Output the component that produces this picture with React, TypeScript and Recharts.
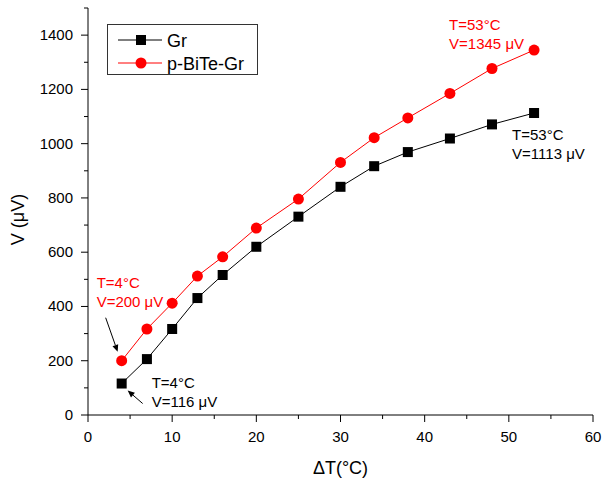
import React from 'react';
import { Label, Legend, Line, LineChart, XAxis, YAxis } from 'recharts';

const FONT = '"Liberation Sans", Arial, sans-serif';

// temperature difference (°C)
const deltaT = [4, 7, 10, 13, 16, 20, 25, 30, 34, 38, 43, 48, 53];
// voltage (µV)
const grV = [116, 206, 317, 431, 516, 620, 731, 841, 917, 969, 1019, 1071, 1113];
const biteV = [200, 317, 412, 512, 583, 689, 796, 931, 1022, 1095, 1185, 1277, 1345];

const xTicks = [0, 5, 10, 15, 20, 25, 30, 35, 40, 45, 50, 55, 60];
const yTicks = [0, 100, 200, 300, 400, 500, 600, 700, 800, 900, 1000, 1100, 1200, 1300, 1400, 1500];

const data = deltaT.map((t, i) => ({ t, gr: grV[i], bite: biteV[i] }));

const YTick = (props: any) => {
  const { x, y, payload } = props;
  const major = payload.value % 200 === 0 && payload.value <= 1400;
  return (
    <g>
      <line x1={x} x2={x - (major ? 7 : 4)} y1={y} y2={y} stroke="#000" />
      {major && (
        <text x={x - 15} y={y} dy={5} textAnchor="end" fontSize={15} fontFamily={FONT} fill="#000">
          {payload.value}
        </text>
      )}
    </g>
  );
};

const XTick = (props: any) => {
  const { x, y, payload } = props;
  const major = payload.value % 10 === 0;
  return (
    <g>
      <line x1={x} x2={x} y1={y} y2={y + (major ? 7 : 4)} stroke="#000" />
      {major && (
        <text x={x} y={y + 27} textAnchor="middle" fontSize={15} fontFamily={FONT} fill="#000">
          {payload.value}
        </text>
      )}
    </g>
  );
};

const Arrow = ({ x1, y1, x2, y2 }: { x1: number; y1: number; x2: number; y2: number }) => {
  const a = Math.atan2(y2 - y1, x2 - x1);
  const len = 7;
  const w = 3;
  const bx = x2 - len * Math.cos(a);
  const by = y2 - len * Math.sin(a);
  const pts = `${x2},${y2} ${bx + w * Math.sin(a)},${by - w * Math.cos(a)} ${bx - w * Math.sin(a)},${by + w * Math.cos(a)}`;
  return (
    <g>
      <line x1={x1} y1={y1} x2={bx} y2={by} stroke="#000" strokeWidth={1} />
      <polygon points={pts} fill="#000" />
    </g>
  );
};

const Note = ({ x, y, lines, color }: { x: number; y: number; lines: string[]; color: string }) => (
  <text x={x} y={y} fontSize={15} fontFamily={FONT} fill={color}>
    {lines.map((l, i) => (
      <tspan key={i} x={x} dy={i === 0 ? 0 : 19}>
        {l}
      </tspan>
    ))}
  </text>
);

const grNote = (p: any) => {
  const { x, y, index } = p;
  if (index === 0) {
    return (
      <g key="gr0">
        <Note x={x + 30} y={y + 4} lines={['T=4°C', 'V=116 μV']} color="#000" />
        <Arrow x1={x + 21} y1={y + 20} x2={x + 6} y2={y + 7} />
      </g>
    );
  }
  if (index === deltaT.length - 1) {
    return <Note key="grN" x={x - 22} y={y + 27} lines={['T=53°C', 'V=1113 μV']} color="#000" />;
  }
  return null;
};

const biteNote = (p: any) => {
  const { x, y, index } = p;
  if (index === 0) {
    return (
      <g key="b0">
        <Note x={x - 25} y={y - 73} lines={['T=4°C', 'V=200 μV']} color="#ff0000" />
        <Arrow x1={x - 16} y1={y - 43} x2={x - 4} y2={y - 9} />
      </g>
    );
  }
  if (index === deltaT.length - 1) {
    return <Note key="bN" x={x - 85} y={y - 20} lines={['T=53°C', 'V=1345 μV']} color="#ff0000" />;
  }
  return null;
};

const Square = (p: any) => {
  const { cx, cy } = p;
  return <rect key={`s${cx}`} x={cx - 5} y={cy - 5} width={10} height={10} fill="#000" />;
};

const Circle = (p: any) => {
  const { cx, cy } = p;
  return <circle key={`c${cx}`} cx={cx} cy={cy} r={5.5} fill="#ff0000" />;
};

const LegendBox = () => (
  <div style={{ width: 151, height: 51, border: '1px solid #333', boxSizing: 'border-box', background: '#fff' }}>
    <svg width={149} height={49} style={{ display: 'block' }}>
      <line x1={10} x2={54} y1={15} y2={15} stroke="#000" />
      <rect x={28} y={10} width={10} height={10} fill="#000" />
      <text x={59} y={22} fontSize={18} fontFamily={FONT} fill="#000">Gr</text>
      <line x1={10} x2={54} y1={38} y2={38} stroke="#ff0000" />
      <circle cx={33} cy={38} r={5.5} fill="#ff0000" />
      <text x={59} y={45} fontSize={18} fontFamily={FONT} fill="#000">p-BiTe-Gr</text>
    </svg>
  </div>
);

const yTitle = (p: any) => {
  const { viewBox } = p;
  const cx = viewBox.x - 10;
  const cy = viewBox.y + viewBox.height / 2 + 8;
  return (
    <text x={cx} y={cy} transform={`rotate(-90 ${cx} ${cy})`} textAnchor="middle" dominantBaseline="central" fontSize={18} fontFamily={FONT} fill="#000">
      V (μV)
    </text>
  );
};

const xTitle = (p: any) => {
  const { viewBox } = p;
  return (
    <text x={viewBox.x + viewBox.width / 2} y={viewBox.y + 59} textAnchor="middle" fontSize={18} fontFamily={FONT} fill="#000">
      ΔT(°C)
    </text>
  );
};

export default function App() {
  return (
    <div style={{ position: 'absolute', left: 0, top: 0, background: '#fff' }}>
      <LineChart width={603} height={483} data={data} margin={{ top: 8, right: 10, left: 28, bottom: 0 }}>
        <XAxis
          dataKey="t"
          type="number"
          domain={[0, 60]}
          ticks={xTicks}
          interval={0}
          height={68}
          tickSize={0}
          tickMargin={0}
          tickLine={false}
          tick={<XTick />}
          axisLine={{ stroke: '#000' }}
        >
          <Label content={xTitle} />
        </XAxis>
        <XAxis xAxisId="top" orientation="top" dataKey="t" type="number" domain={[0, 60]} height={0} tick={false} tickLine={false} axisLine={{ stroke: '#000' }} />
        <YAxis
          type="number"
          domain={[0, 1500]}
          ticks={yTicks}
          interval={0}
          width={60}
          tickSize={0}
          tickMargin={0}
          tickLine={false}
          tick={<YTick />}
          axisLine={{ stroke: '#000' }}
        >
          <Label content={yTitle} />
        </YAxis>
        <YAxis yAxisId="right" orientation="right" type="number" domain={[0, 1500]} width={0} tick={false} tickLine={false} axisLine={{ stroke: '#000' }} />
        <Legend
          layout="vertical"
          align="center"
          verticalAlign="middle"
          content={<LegendBox />}
          wrapperStyle={{ left: 107, top: 24, width: 151 }}
        />
        <Line
          dataKey="gr"
          name="Gr"
          stroke="#000"
          strokeWidth={1}
          dot={Square}
          activeDot={false}
          label={grNote}
          isAnimationActive={false}
        />
        <Line
          dataKey="bite"
          name="p-BiTe-Gr"
          stroke="#ff0000"
          strokeWidth={1}
          dot={Circle}
          activeDot={false}
          label={biteNote}
          isAnimationActive={false}
        />
      </LineChart>
    </div>
  );
}
